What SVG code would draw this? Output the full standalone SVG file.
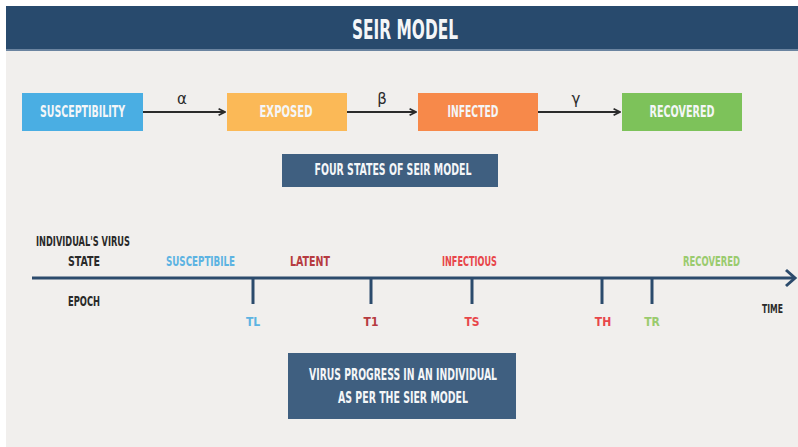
<svg xmlns="http://www.w3.org/2000/svg" width="798" height="447" viewBox="0 0 798 447">
<defs>
<style>
.t{font-family:"Liberation Sans Narrow","DejaVu Sans Condensed","Liberation Sans",sans-serif;font-weight:bold;font-stretch:condensed}
.w{fill:#f4f6f8}
.g{font-family:"DejaVu Sans","Liberation Sans",sans-serif;fill:#2b2b2b;font-size:15px}
.conn{stroke:#2b2b2b;stroke-width:2;fill:none}
.axis{stroke:#2c4b6c;stroke-width:3;fill:none}
.tick{stroke:#2c4b6c;stroke-width:3}
.dark{fill:#2a2a2a}
</style>
<marker id="ah" viewBox="0 0 10 10" refX="9" refY="5" markerWidth="8" markerHeight="8" orient="auto" markerUnits="userSpaceOnUse">
<path d="M1,1 L9,5 L1,9" fill="none" stroke="#2b2b2b" stroke-width="2.2"/>
</marker>
</defs>
<rect width="798" height="447" fill="#f1efed"/>
<rect x="0" y="0" width="798" height="6" fill="#ffffff"/>
<rect x="0" y="0" width="6" height="447" fill="#ffffff"/>
<g id="header">
<rect x="6" y="6" width="792" height="44" fill="#284a6d"/>
<rect x="6" y="49" width="792" height="2" fill="#6b84a0"/>
<text class="t w" x="405" y="38.5" font-size="26" text-anchor="middle" textLength="106" lengthAdjust="spacingAndGlyphs">SEIR MODEL</text>
</g>
<g id="connectors">
<line class="conn" x1="143" y1="112" x2="225" y2="112" marker-end="url(#ah)"/>
<line class="conn" x1="347" y1="112" x2="416" y2="112" marker-end="url(#ah)"/>
<line class="conn" x1="538" y1="112" x2="620" y2="112" marker-end="url(#ah)"/>
<text class="g" x="182" y="104" text-anchor="middle">α</text>
<text class="g" x="382" y="104" text-anchor="middle">β</text>
<text class="g" x="576" y="104" text-anchor="middle">γ</text>
</g>
<g id="susceptibility">
<rect x="22" y="93" width="121" height="38" fill="#4aaee3"/>
<text class="t w" x="82.5" y="116.5" font-size="16" text-anchor="middle" textLength="85" lengthAdjust="spacingAndGlyphs">SUSCEPTIBILITY</text>
</g>
<g id="exposed">
<rect x="227" y="93" width="120" height="38" fill="#fbb957"/>
<text class="t w" x="286" y="116.5" font-size="16" text-anchor="middle" textLength="53" lengthAdjust="spacingAndGlyphs">EXPOSED</text>
</g>
<g id="infected">
<rect x="418" y="93" width="120" height="38" fill="#f7894a"/>
<text class="t w" x="473" y="116.5" font-size="16" text-anchor="middle" textLength="51" lengthAdjust="spacingAndGlyphs">INFECTED</text>
</g>
<g id="recovered">
<rect x="622" y="93" width="120" height="38" fill="#7dc25a"/>
<text class="t w" x="682" y="116.5" font-size="16" text-anchor="middle" textLength="65" lengthAdjust="spacingAndGlyphs">RECOVERED</text>
</g>
<g id="four-states">
<rect x="282" y="154" width="216" height="33" fill="#3f5f80"/>
<text class="t w" x="393" y="174.5" font-size="16" text-anchor="middle" textLength="157" lengthAdjust="spacingAndGlyphs">FOUR STATES OF SEIR MODEL</text>
</g>
<g id="timeline">
<line class="axis" x1="32" y1="278" x2="795" y2="278"/>
<path d="M786,270 L795,278 L786,286" fill="none" stroke="#2c4b6c" stroke-width="3"/>
<line class="tick" x1="253" y1="278" x2="253" y2="304"/>
<line class="tick" x1="371" y1="278" x2="371" y2="304"/>
<line class="tick" x1="472" y1="278" x2="472" y2="304"/>
<line class="tick" x1="602" y1="278" x2="602" y2="304"/>
<line class="tick" x1="652" y1="278" x2="652" y2="304"/>
</g>
<g id="labels">
<text class="t dark" x="83" y="245.5" font-size="14" text-anchor="middle" textLength="94" lengthAdjust="spacingAndGlyphs">INDIVIDUAL'S VIRUS</text>
<text class="t dark" x="84" y="265.5" font-size="14" text-anchor="middle" textLength="32" lengthAdjust="spacingAndGlyphs">STATE</text>
<text class="t dark" x="84" y="305.5" font-size="14" text-anchor="middle" textLength="32" lengthAdjust="spacingAndGlyphs">EPOCH</text>
<text class="t dark" x="772.5" y="312.5" font-size="13" text-anchor="middle" textLength="21" lengthAdjust="spacingAndGlyphs">TIME</text>
<text class="t" fill="#5cb3e2" x="200.5" y="265.5" font-size="14" text-anchor="middle" textLength="69" lengthAdjust="spacingAndGlyphs">SUSCEPTIBILE</text>
<text class="t" fill="#b63b40" x="310" y="265.5" font-size="14" text-anchor="middle" textLength="40" lengthAdjust="spacingAndGlyphs">LATENT</text>
<text class="t" fill="#e8464a" x="469.5" y="265.5" font-size="14" text-anchor="middle" textLength="55" lengthAdjust="spacingAndGlyphs">INFECTIOUS</text>
<text class="t" fill="#9acb6e" x="711.5" y="265.5" font-size="14" text-anchor="middle" textLength="57" lengthAdjust="spacingAndGlyphs">RECOVERED</text>
<text class="t" fill="#5cb3e2" x="253" y="325.5" font-size="12" text-anchor="middle">TL</text>
<text class="t" fill="#b63b40" x="371" y="325.5" font-size="12" text-anchor="middle">T1</text>
<text class="t" fill="#e8464a" x="472" y="325.5" font-size="12" text-anchor="middle">TS</text>
<text class="t" fill="#e8464a" x="603" y="325.5" font-size="12" text-anchor="middle">TH</text>
<text class="t" fill="#9acb6e" x="652" y="325.5" font-size="12" text-anchor="middle">TR</text>
</g>
<g id="virus-progress">
<rect x="288" y="353" width="228" height="66" fill="#3f5f80"/>
<text class="t w" x="403" y="379.5" font-size="15" text-anchor="middle" textLength="188" lengthAdjust="spacingAndGlyphs">VIRUS PROGRESS IN AN INDIVIDUAL</text>
<text class="t w" x="403" y="402.5" font-size="15" text-anchor="middle" textLength="130" lengthAdjust="spacingAndGlyphs">AS PER THE SIER MODEL</text>
</g>
</svg>
